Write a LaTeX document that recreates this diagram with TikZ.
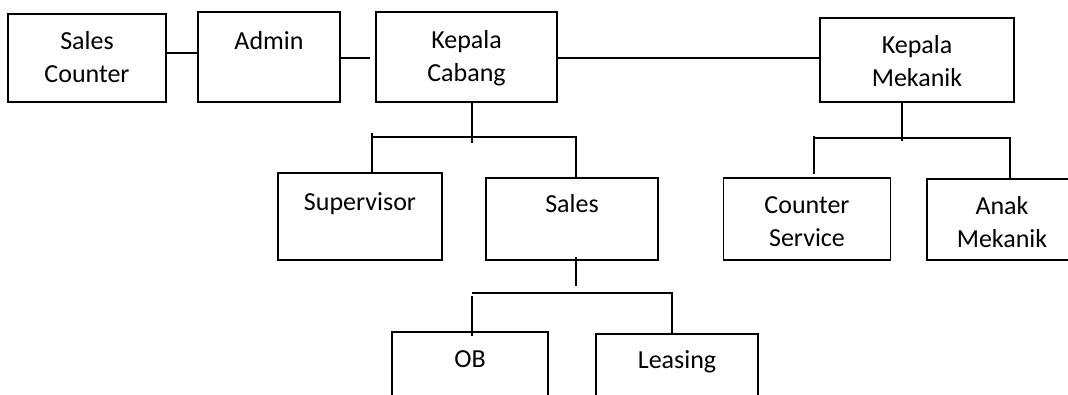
\documentclass[tikz,border=0pt]{standalone}
\usepackage{fontspec}
\setmainfont{Carlito}
\usetikzlibrary{positioning}

\tikzset{
    box/.style={draw, line width=1.8pt, inner sep=0pt},
    openbox/.style={inner sep=0pt},
    txt/.style={align=center, inner sep=0pt, anchor=base, font=\fontsize{26}{33}\selectfont}
}

\begin{document}
\begin{tikzpicture}[x=1pt, y=-1pt, line width=1.8pt]
    \useasboundingbox (0,0) rectangle (1068,394);
    \clip (0,0) rectangle (1068,394);

    % kotak baris atas
    \node[box, minimum width=158, minimum height=88] (sc) at (87,58) {};
    \node[box, minimum width=142, minimum height=90] (admin) at (269,57) {};
    \node[box, minimum width=181, minimum height=90] (kc) at (466.5,57) {};
    \node[box, minimum width=194, minimum height=84] (km) at (917,60) {};

    % kotak baris tengah
    \node[box, minimum width=164, minimum height=87] (sup) at (360,216.5) {};
    \node[box, minimum width=172, minimum height=82] (sales) at (572,219) {};
    \node[box, minimum width=167, minimum height=82] (cs) at (807,219) {};
    % anak mekanik terpotong di tepi kanan
    \node[openbox, minimum width=148, minimum height=79] (am) at (1002,219.5) {};
    \draw (am.north east) -- (am.north west) -- (am.south west) -- (am.south east);

    % kotak baris bawah (terpotong di tepi bawah)
    \node[box, minimum width=156, minimum height=100] (ob) at (470,382) {};
    \node[box, minimum width=162, minimum height=100] (leasing) at (677,384) {};

    % tulisan di dalam kotak (base = garis dasar baris terakhir)
    \node[txt] (scT) at ([yshift=-69pt]sc.north) {Sales\\Counter};
    \node[txt] (adminT) at ([yshift=-38pt]admin.north) {Admin};
    \node[txt] (kcT) at ([yshift=-70pt]kc.north) {Kepala\\Cabang};
    \node[txt] (kmT) at ([yshift=-69pt]km.north) {Kepala\\Mekanik};
    \node[txt] (supT) at ([yshift=-38pt]sup.north) {Supervisor};
    \node[txt] (salesT) at ([yshift=-35pt]sales.north) {Sales};
    \node[txt] (csT) at ([yshift=-69pt]cs.north) {Counter\\Service};
    \node[txt] (amT) at ([yshift=-68pt]am.north) {Anak\\Mekanik};
    \node[txt] (obT) at ([yshift=-36pt]ob.north) {OB};
    \node[txt] (leasingT) at ([yshift=-35pt]leasing.north) {Leasing};

    % garis mendatar baris atas
    \draw (sc.east |- 0,53) -- (admin.west |- 0,53);
    \draw (admin.east |- 0,58) -- ([xshift=-5pt]kc.west |- 0,58);
    \draw (kc.east |- 0,58) -- (km.west |- 0,58);

    % kepala cabang ke supervisor dan sales
    \draw ([xshift=5.5pt]kc.south) -- ++(0,40);
    \draw ([xshift=12pt]sup.north) -- ++(0,-39);
    \draw ([xshift=12pt]sup.north |- 0,137) -- ([xshift=4pt]sales.north |- 0,137) -- ([xshift=4pt]sales.north);

    % kepala mekanik ke counter service dan anak mekanik
    \draw ([xshift=-15pt]km.south) -- ++(0,38);
    \draw ([xshift=7pt,yshift=3pt]cs.north) -- ([xshift=7pt]cs.north |- 0,136);
    \draw ([xshift=7pt]cs.north |- 0,138) -- ([xshift=8pt]am.north |- 0,138) -- ([xshift=8pt]am.north);

    % sales ke OB dan leasing
    \draw ([xshift=4pt,yshift=4pt]sales.south) -- ++(0,29);
    \draw ([xshift=2pt,yshift=-5pt]ob.north) -- ([xshift=2pt]ob.north |- 0,296);
    \draw ([xshift=2pt]ob.north |- 0,293) -- ([xshift=-5pt]leasing.north |- 0,293) -- ([xshift=-5pt]leasing.north);
\end{tikzpicture}
\end{document}
